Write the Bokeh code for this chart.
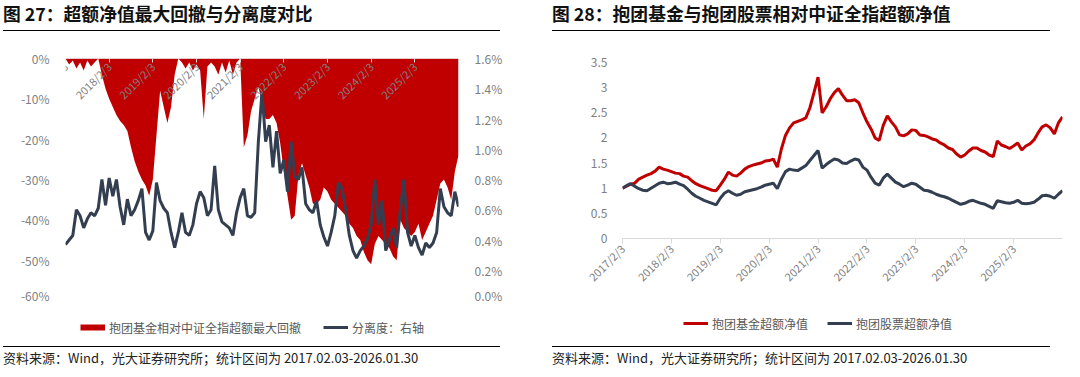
import math
import numpy as np
from bokeh.plotting import figure
from bokeh.models import (Range1d, LinearAxis, FixedTicker, NumeralTickFormatter,
                          Legend, LegendItem, Div)
from bokeh.layouts import row, column
from bokeh.embed import file_html
from bokeh.resources import INLINE

FONT = "Noto Sans CJK SC"
RED = "#C00000"
DARK = "#333F50"
GRAY = "#7F7F7F"

# ---------------- data (monthly samples, 2017/2 .. 2026/1) ----------------
x_tick_pos = [0, 12, 24, 36, 48, 60, 72, 84, 96]
x_tick_labels = ["2017/2/3", "2018/2/3", "2019/2/3", "2020/2/3", "2021/2/3",
                 "2022/2/3", "2023/2/3", "2024/2/3", "2025/2/3"]

# 抱团基金相对中证全指超额最大回撤 (%)
drawdown_pct = [
    0, -1.5, -0.5, -2.5, -1, -3, -0.5, -2, -1, 0,
    -4, -7.5, -10, -12, -14, -15.5, -16.5, -18, -22, -25.5,
    -28, -30, -31.5, -34, -30, -19, -8, -12, -16, -12,
    -4, 0, -1, -2.5, -1, -3, -1.5, -3, -15, -2,
    -1, -2, -4, -1, -3.5, -0.5, -4, -1, 0, -22,
    -19, -13, -10, -7, -11, -15, -15, -14, -16, -21,
    -28, -34, -40, -39, -29, -26, -29, -32, -36, -36,
    -35, -32, -33, -35, -36, -37, -38, -39, -41, -42,
    -44, -45, -48, -50, -51, -46, -44, -45, -46, -47,
    -49, -50, -40, -42, -43, -44, -43, -41, -45, -43,
    -41, -39, -35, -31, -30, -32, -35, -28, -24,
]

# 分离度 (%, right axis)
separation_pct = [
    0.37, 0.40, 0.43, 0.60, 0.56, 0.48, 0.54, 0.58, 0.56, 0.61,
    0.80, 0.63, 0.81, 0.69, 0.80, 0.62, 0.50, 0.67, 0.56, 0.60,
    0.66, 0.74, 0.45, 0.40, 0.46, 0.78, 0.66, 0.61, 0.58, 0.45,
    0.35, 0.45, 0.58, 0.45, 0.43, 0.50, 0.64, 0.72, 0.68, 0.56,
    0.60, 0.89, 0.60, 0.52, 0.50, 0.48, 0.43, 0.58, 0.68, 0.74,
    0.56, 0.55, 0.58, 1.05, 1.38, 1.05, 1.16, 0.88, 1.12, 0.84,
    0.93, 0.72, 1.05, 0.82, 0.80, 0.88, 0.64, 0.60, 0.58, 0.66,
    0.50, 0.42, 0.36, 0.45, 0.56, 0.78, 0.74, 0.60, 0.43, 0.33,
    0.28, 0.33, 0.36, 0.41, 0.50, 0.80, 0.50, 0.66, 0.33, 0.40,
    0.48, 0.35, 0.60, 0.80, 0.45, 0.36, 0.43, 0.35, 0.30, 0.38,
    0.35, 0.38, 0.45, 0.74, 0.62, 0.58, 0.56, 0.72, 0.62,
]

# 抱团基金超额净值
fund_nav = [
    1.00, 1.04, 1.08, 1.10, 1.18, 1.22, 1.26, 1.29, 1.34, 1.42,
    1.38, 1.36, 1.33, 1.30, 1.29, 1.24, 1.22, 1.15, 1.09, 1.05,
    1.02, 0.99, 0.96, 0.95, 1.06, 1.18, 1.32, 1.26, 1.24, 1.30,
    1.38, 1.43, 1.46, 1.48, 1.50, 1.54, 1.55, 1.58, 1.42, 1.78,
    2.05, 2.20, 2.30, 2.33, 2.36, 2.40, 2.60, 2.90, 3.21, 2.50,
    2.62, 2.78, 2.90, 2.98, 2.85, 2.74, 2.74, 2.76, 2.70, 2.50,
    2.32, 2.18, 2.00, 1.95, 2.25, 2.44, 2.32, 2.22, 2.06, 2.04,
    2.08, 2.16, 2.15, 2.06, 2.05, 2.02, 1.98, 1.96, 1.90, 1.86,
    1.80, 1.77, 1.68, 1.62, 1.66, 1.74, 1.80, 1.80, 1.75, 1.72,
    1.66, 1.63, 1.94, 1.86, 1.83, 1.79, 1.84, 1.90, 1.76, 1.84,
    1.88, 1.96, 2.10, 2.22, 2.26, 2.20, 2.08, 2.30, 2.42,
]

# 抱团股票超额净值
stock_nav = [
    1.00, 1.05, 1.09, 1.04, 0.99, 0.96, 0.95, 1.00, 1.05, 1.10,
    1.12, 1.09, 1.10, 1.12, 1.08, 1.05, 0.98, 0.90, 0.84, 0.80,
    0.76, 0.73, 0.70, 0.67, 0.80, 0.90, 0.95, 0.90, 0.86, 0.88,
    0.93, 0.95, 0.97, 0.99, 1.02, 1.06, 1.08, 1.10, 0.99, 1.18,
    1.33, 1.38, 1.36, 1.35, 1.40, 1.45, 1.55, 1.65, 1.75, 1.40,
    1.47, 1.53, 1.58, 1.56, 1.50, 1.49, 1.54, 1.58, 1.56, 1.42,
    1.36, 1.22, 1.10, 1.06, 1.20, 1.28, 1.20, 1.12, 1.08, 1.03,
    1.06, 1.10, 1.08, 1.02, 0.96, 0.95, 0.92, 0.88, 0.85, 0.83,
    0.80, 0.76, 0.72, 0.68, 0.70, 0.74, 0.76, 0.73, 0.70, 0.68,
    0.64, 0.60, 0.75, 0.73, 0.71, 0.70, 0.72, 0.76, 0.70, 0.69,
    0.70, 0.72, 0.78, 0.85, 0.86, 0.84, 0.80, 0.88, 0.95,
]

left_y_ticks = [-0.6, -0.5, -0.4, -0.3, -0.2, -0.1, 0.0]
right_y_ticks = [0.0, 0.002, 0.004, 0.006, 0.008, 0.010, 0.012, 0.014, 0.016]
nav_ticks = [0, 0.5, 1, 1.5, 2, 2.5, 3, 3.5]
nav_tick_labels = ["0", "0.5", "1", "1.5", "2", "2.5", "3", "3.5"]

title1 = "图 27：超额净值最大回撤与分离度对比"
title2 = "图 28：抱团基金与抱团股票相对中证全指超额净值"
source = "资料来源：Wind，光大证券研究所；统计区间为 2017.02.03-2026.01.30"
legend1_labels = ["抱团基金相对中证全指超额最大回撤", "分离度：右轴"]
legend2_labels = ["抱团基金超额净值", "抱团股票超额净值"]

months = np.arange(len(fund_nav))
dd = np.array(drawdown_pct) / 100.0
sep = np.array(separation_pct) / 100.0
x_overrides = {p: l for p, l in zip(x_tick_pos, x_tick_labels)}


def style_common(p):
    p.xgrid.visible = False
    p.ygrid.visible = False
    p.outline_line_color = None
    p.background_fill_color = "white"
    p.border_fill_color = "white"


def legend_figure(width, labels, colors, widths, loc, spacing):
    # a strip below the chart that only carries the legend (swatches are
    # legend proxies holding no drawable point)
    lf = figure(width=width, height=43, output_backend="svg", toolbar_location=None,
                x_range=Range1d(0, 1), y_range=Range1d(0, 1),
                x_axis_location=None, y_axis_location=None,
                min_border_left=0, min_border_right=0, min_border_top=0,
                min_border_bottom=0)
    style_common(lf)
    items = []
    for lab, col, w in zip(labels, colors, widths):
        r = lf.line(x=[0.5], y=[float("nan")], line_color=col, line_width=w)
        items.append(LegendItem(label=lab, renderers=[r]))
    leg = Legend(items=items, orientation="horizontal", location=loc, spacing=spacing,
                 glyph_width=25, glyph_height=20, label_height=20, label_standoff=4,
                 padding=0, margin=0, border_line_color=None, background_fill_alpha=0,
                 label_text_font=FONT, label_text_font_size="12px",
                 label_text_color="#595959")
    lf.add_layout(leg)
    return lf


# ---------------- left chart ----------------
p1 = figure(width=552, height=272, output_backend="svg", toolbar_location=None,
            x_range=Range1d(0, 108), y_range=Range1d(-0.6, 0),
            min_border_left=65, min_border_right=94, min_border_top=27,
            min_border_bottom=3)
style_common(p1)
p1.extra_y_ranges = {"sep": Range1d(0, 0.016)}

r_area = p1.varea(x=months, y1=0, y2=dd, fill_color=RED)
r_sep = p1.line(x=months, y=sep, y_range_name="sep", line_color=DARK, line_width=3)

ya = p1.yaxis[0]
ya.ticker = FixedTicker(ticks=left_y_ticks)
ya.formatter = NumeralTickFormatter(format="0%")
ya.axis_line_color = None
ya.major_tick_line_color = None
ya.minor_tick_line_color = None
ya.major_label_standoff = 10
ya.major_label_text_font = FONT
ya.major_label_text_font_size = "12px"
ya.major_label_text_color = GRAY

ra = LinearAxis(y_range_name="sep", ticker=FixedTicker(ticks=right_y_ticks),
                formatter=NumeralTickFormatter(format="0.0%"))
ra.axis_line_color = None
ra.major_tick_line_color = None
ra.minor_tick_line_color = None
ra.major_label_standoff = 10
ra.major_label_text_font = FONT
ra.major_label_text_font_size = "12px"
ra.major_label_text_color = GRAY
p1.add_layout(ra, "right")

xa = p1.xaxis[0]
xa.fixed_location = 0
xa.ticker = FixedTicker(ticks=x_tick_pos)
xa.major_label_overrides = x_overrides
xa.major_label_orientation = math.pi / 4
xa.axis_line_color = "#D9D9D9"
xa.major_tick_line_color = "#D9D9D9"
xa.major_tick_in = 3
xa.major_tick_out = 4
xa.minor_tick_line_color = None
xa.major_label_standoff = 2
xa.major_label_text_font = FONT
xa.major_label_text_font_size = "11px"
xa.major_label_text_color = GRAY

# legend strip shares the chart's frame (column aligns frames): x offset from frame left
lf1 = legend_figure(552, legend1_labels, [RED, DARK], [6, 3], (15, 9), 22)

# ---------------- right chart ----------------
p2 = figure(width=528, height=272, output_backend="svg", toolbar_location=None,
            x_range=Range1d(0, 108), y_range=Range1d(0, 3.5),
            min_border_left=70, min_border_right=18, min_border_top=31,
            min_border_bottom=65)
style_common(p2)
r_fund = p2.line(x=months, y=fund_nav, line_color=RED, line_width=3)
r_stock = p2.line(x=months, y=stock_nav, line_color=DARK, line_width=3)

ya2 = p2.yaxis[0]
ya2.ticker = FixedTicker(ticks=nav_ticks)
ya2.major_label_overrides = {t: l for t, l in zip(nav_ticks, nav_tick_labels)}
ya2.axis_line_color = None
ya2.major_tick_line_color = None
ya2.minor_tick_line_color = None
ya2.major_label_standoff = 9
ya2.major_label_text_font = FONT
ya2.major_label_text_font_size = "12px"
ya2.major_label_text_color = GRAY

xa2 = p2.xaxis[0]
xa2.ticker = FixedTicker(ticks=x_tick_pos)
xa2.major_label_overrides = x_overrides
xa2.major_label_orientation = math.pi / 4
xa2.axis_line_color = "#D9D9D9"
xa2.major_tick_line_color = "#D9D9D9"
xa2.major_tick_in = 0
xa2.major_tick_out = 5
xa2.minor_tick_line_color = None
xa2.major_label_standoff = 3
xa2.major_label_text_font = FONT
xa2.major_label_text_font_size = "11px"
xa2.major_label_text_color = GRAY

lf2 = legend_figure(528, legend2_labels, [RED, DARK], [3, 3], (61, 13), 19)


# ---------------- titles / sources ----------------
def title_div(text, ml, rule_w, width):
    html = (f'<div style="margin-left:{ml}px;width:{rule_w}px;height:31px;box-sizing:border-box;'
            f'padding-top:4px;border-bottom:1.5px solid #000;font-family:\'{FONT}\';'
            f'font-weight:bold;font-size:17.8px;line-height:19px;color:#111;'
            f'white-space:nowrap;">{text}</div>')
    return Div(text=html, width=width, height=31, margin=0)


def source_div(text, ml, rule_w, width):
    html = (f'<div style="margin-left:{ml}px;width:{rule_w}px;height:24px;box-sizing:border-box;'
            f'border-top:1.5px solid #000;font-family:\'{FONT}\';'
            f'font-size:13px;line-height:17px;padding-top:2px;color:#222;'
            f'white-space:nowrap;">{text}</div>')
    return Div(text=html, width=width, height=24, margin=0)


left = column(title_div(title1, 3, 497, 552), p1, lf1,
              source_div(source, 3, 497, 552), spacing=0)
right = column(title_div(title2, 0, 498, 528), p2, lf2,
               source_div(source, 0, 498, 528), spacing=0)
layout = row(left, right, spacing=0)

open("out.html", "w").write(file_html(layout, INLINE))
